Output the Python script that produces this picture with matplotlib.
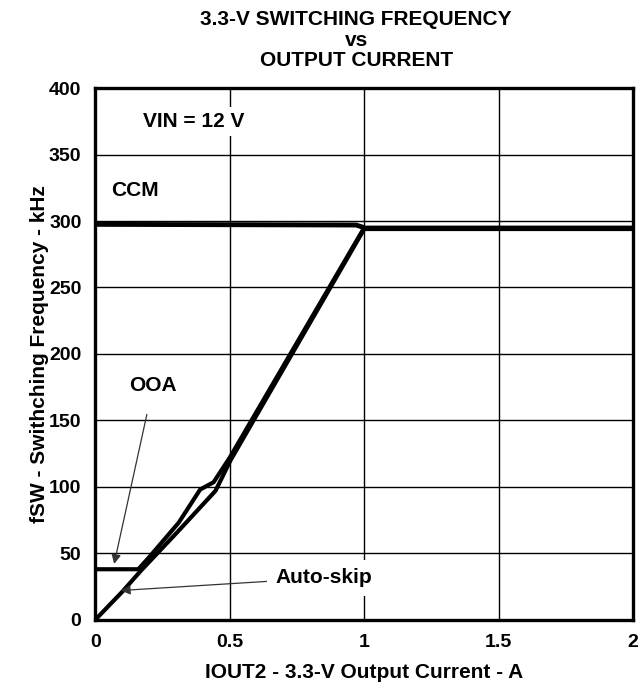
import matplotlib
matplotlib.use("Agg")
import matplotlib.pyplot as plt

plt.rcParams['font.family'] = ['Liberation Sans', 'DejaVu Sans']
plt.rcParams['font.weight'] = 'bold'

# forced CCM (light load held in continuous mode)
ccm_x = [0.0, 0.97, 1.0]
ccm_y = [297.5, 297.0, 295.0]

# OOA mode: clamped at ~38 kHz, then rising into CCM
ooa_x = [0.0, 0.16, 0.20, 0.31, 0.39, 0.44, 0.50, 1.0, 2.0]
ooa_y = [38, 38, 47, 73, 98, 103.5, 122, 295, 295]

# auto-skip mode: from 0 straight up
skip_x = [0.0, 0.10, 0.17, 0.31, 0.447, 0.503, 1.0, 2.0]
skip_y = [0, 21, 37, 67, 97, 120, 294, 294]

x_ticks = [0, 0.5, 1, 1.5, 2]
x_labels = ['0', '0.5', '1', '1.5', '2']
y_ticks = [0, 50, 100, 150, 200, 250, 300, 350, 400]

fig = plt.figure(figsize=(6.44, 6.94), dpi=100)
ax = fig.add_axes([0.148, 0.107, 0.835, 0.766])

ax.plot(ccm_x, ccm_y, color='black', lw=3.5, solid_capstyle='butt', zorder=3)
ax.plot(ooa_x, ooa_y, color='black', lw=3.0, zorder=3)
ax.plot(skip_x, skip_y, color='black', lw=3.0, zorder=3)

ax.set_xlim(0, 2)
ax.set_ylim(0, 400)
ax.set_xticks(x_ticks)
ax.set_xticklabels(x_labels)
ax.set_yticks(y_ticks)
ax.tick_params(length=0, labelsize=14, pad=10)
for lab in ax.get_xticklabels() + ax.get_yticklabels():
    lab.set_fontweight('bold')
ax.grid(True, color='black', lw=1.0)
ax.set_axisbelow(True)
for sp in ax.spines.values():
    sp.set_linewidth(2.4)

ax.set_xlabel('IOUT2 - 3.3-V Output Current - A', fontsize=15, fontweight='bold', labelpad=9)
ax.set_ylabel('fSW - Swithching Frequency - kHz', fontsize=15, fontweight='bold', labelpad=0)
fig.text(0.553, 0.985, '3.3-V SWITCHING FREQUENCY\nvs\nOUTPUT CURRENT', ha='center', va='top',
         fontsize=15, fontweight='bold', linespacing=1.08)

ax.text(0.365, 375, 'VIN = 12 V', ha='center', va='center', fontsize=15, fontweight='bold',
        bbox=dict(boxstyle='square,pad=0.25', fc='white', ec='none'), zorder=4)
ax.text(0.058, 323, 'CCM', ha='left', va='center', fontsize=15, fontweight='bold', zorder=4)
ax.annotate('OOA', xy=(0.07, 42), xytext=(0.215, 176), ha='center', va='center',
            fontsize=15, fontweight='bold', zorder=4,
            arrowprops=dict(arrowstyle='-|>', color='#333333', lw=0.9, mutation_scale=14,
                            shrinkA=12, shrinkB=0))
ax.annotate('Auto-skip', xy=(0.095, 22), xytext=(0.849, 31.5), ha='center', va='center',
            fontsize=15, fontweight='bold', zorder=4,
            bbox=dict(boxstyle='square,pad=0.4', fc='white', ec='none'),
            arrowprops=dict(arrowstyle='-|>', color='#333333', lw=0.9, mutation_scale=14,
                            shrinkA=0, shrinkB=0))

fig.savefig('out.png', dpi=100)
